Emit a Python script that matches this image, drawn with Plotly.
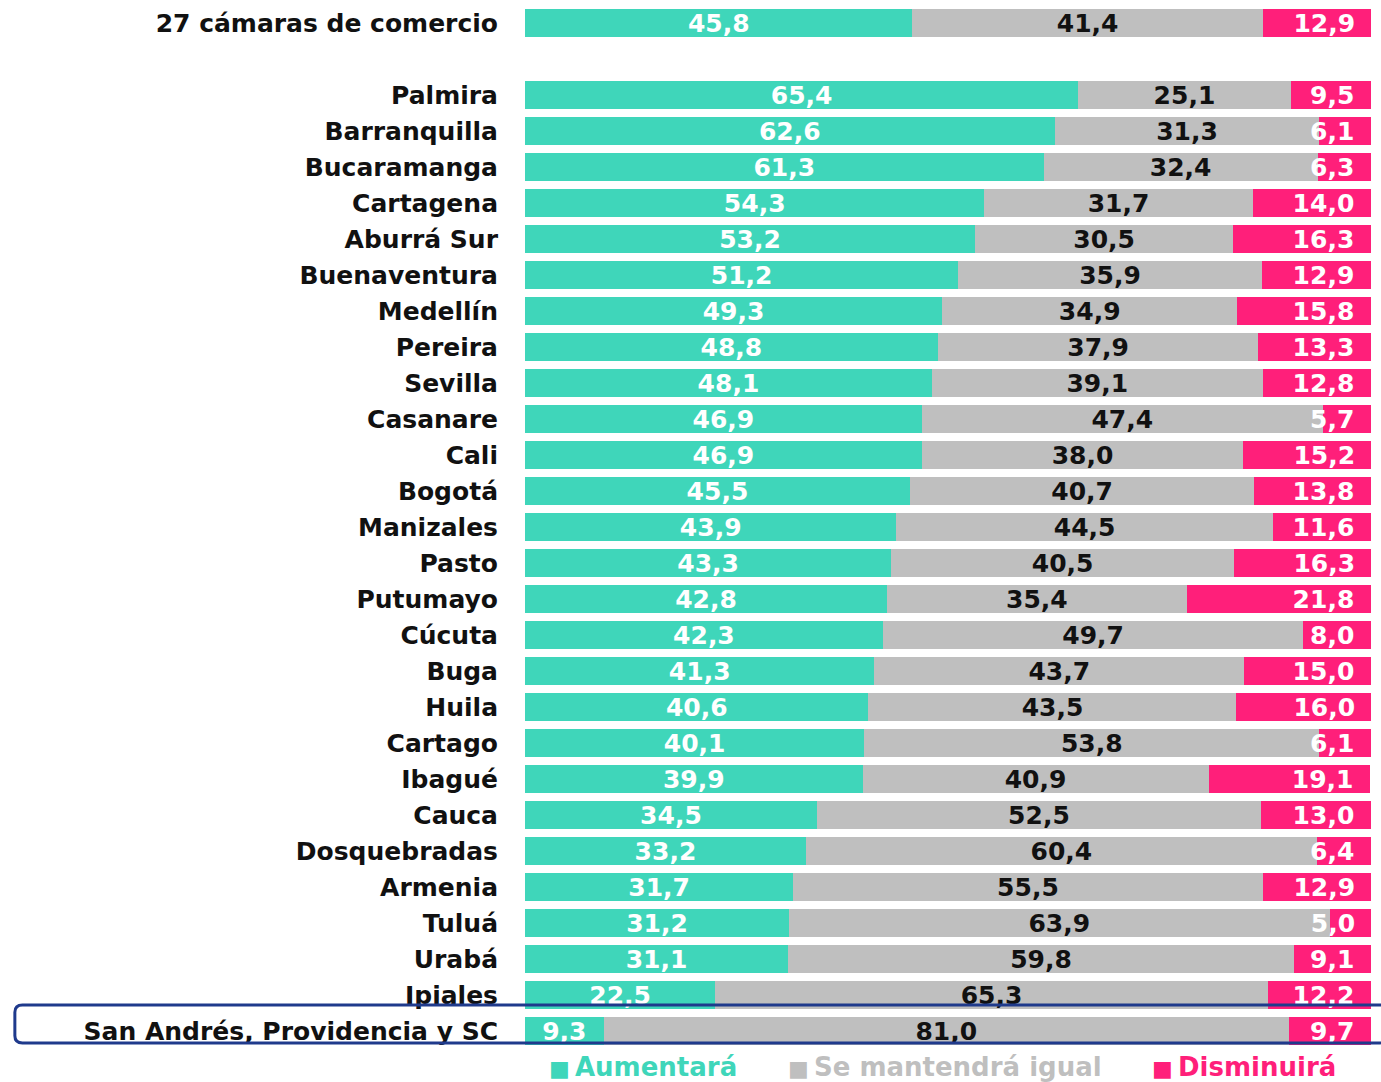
from __future__ import annotations

import plotly.graph_objects as go

categories = [
    "27 cámaras de comercio",
    "Palmira", "Barranquilla", "Bucaramanga", "Cartagena", "Aburrá Sur",
    "Buenaventura", "Medellín", "Pereira", "Sevilla", "Casanare", "Cali",
    "Bogotá", "Manizales", "Pasto", "Putumayo", "Cúcuta", "Buga", "Huila",
    "Cartago", "Ibagué", "Cauca", "Dosquebradas", "Armenia", "Tuluá",
    "Urabá", "Ipiales", "San Andrés, Providencia y SC",
]
aumentara = [
    45.8, 65.4, 62.6, 61.3, 54.3, 53.2, 51.2, 49.3, 48.8, 48.1, 46.9, 46.9,
    45.5, 43.9, 43.3, 42.8, 42.3, 41.3, 40.6, 40.1, 39.9, 34.5, 33.2, 31.7,
    31.2, 31.1, 22.5, 9.3,
]
igual = [
    41.4, 25.1, 31.3, 32.4, 31.7, 30.5, 35.9, 34.9, 37.9, 39.1, 47.4, 38.0,
    40.7, 44.5, 40.5, 35.4, 49.7, 43.7, 43.5, 53.8, 40.9, 52.5, 60.4, 55.5,
    63.9, 59.8, 65.3, 81.0,
]
disminuira = [
    12.9, 9.5, 6.1, 6.3, 14.0, 16.3, 12.9, 15.8, 13.3, 12.8, 5.7, 15.2,
    13.8, 11.6, 16.3, 21.8, 8.0, 15.0, 16.0, 6.1, 19.1, 13.0, 6.4, 12.9,
    5.0, 9.1, 12.2, 9.7,
]
series_names = ["Aumentará", "Se mantendrá igual", "Disminuirá"]

GREEN = "#3FD6BA"
GRAY = "#BFBFBF"
PINK = "#FF1F7A"
BLUE = "#1F3A8C"
FONT = "DejaVu Sans"

# total row sits alone, one empty slot, then the chambers
ypos = [0] + list(range(2, len(categories) + 1))

fig = go.Figure()
specs = [
    (aumentara, GREEN, "white", "middle", "%{x:.1f}"),
    (igual, GRAY, "#111111", "middle", "%{x:.1f}"),
    (disminuira, PINK, "white", "end", "%{x:.1f}\u00a0\u2009"),
]
for name, (vals, color, tcolor, anchor, tmpl) in zip(series_names, specs):
    fig.add_trace(
        go.Bar(
            name=name,
            y=ypos,
            x=vals,
            orientation="h",
            marker=dict(color=color, line=dict(width=0)),
            texttemplate=tmpl,
            textposition="inside",
            insidetextanchor=anchor,
            constraintext="none",
            textfont=dict(family=FONT, size=25, color=tcolor, weight="bold"),
            showlegend=False,
        )
    )

fig.update_layout(
    width=1381,
    height=1082,
    barmode="stack",
    bargap=0.22,
    separators=",.",
    plot_bgcolor="white",
    paper_bgcolor="white",
    margin=dict(l=525, r=10, t=5, b=33),
    font=dict(family=FONT, color="#111111"),
)
fig.update_xaxes(range=[0, 100], visible=False, fixedrange=True)
fig.update_yaxes(
    tickvals=ypos,
    ticktext=categories,
    range=[len(categories) + 0.5, -0.5],
    showgrid=False,
    zeroline=False,
    ticks="",
    ticklabelstandoff=26,
    tickfont=dict(family=FONT, size=25, color="#111111", weight="bold"),
)

# highlight box around the last row
last = ypos[-1]
x0, x1 = -0.603, 1.02
y0, y1 = last - 0.72, last + 0.33
rx, ry = 0.009, 0.2
path = (
    f"M {x0 + rx},{y0} L {x1 - rx},{y0} Q {x1},{y0} {x1},{y0 + ry} "
    f"L {x1},{y1 - ry} Q {x1},{y1} {x1 - rx},{y1} "
    f"L {x0 + rx},{y1} Q {x0},{y1} {x0},{y1 - ry} "
    f"L {x0},{y0 + ry} Q {x0},{y0} {x0 + rx},{y0} Z"
)
fig.add_shape(
    type="path", path=path, xref="paper", yref="y",
    line=dict(color=BLUE, width=3), layer="above",
)

# legend drawn as coloured text
legend_x = [0.026, 0.3085, 0.7388]
legend_colors = [GREEN, GRAY, PINK]
for name, lx, col in zip(series_names, legend_x, legend_colors):
    fig.add_annotation(
        x=lx, y=-0.0172, xref="paper", yref="paper",
        xanchor="left", yanchor="middle", showarrow=False,
        text=f"<span style='font-size:22px'>■</span>\u2009{name}",
        font=dict(family=FONT, size=26, color=col, weight="bold"),
    )

fig.write_html(
    "out.html",
    config={"displayModeBar": False},
    post_script="document.body.style.margin='0';document.body.style.overflow='hidden';",
)
